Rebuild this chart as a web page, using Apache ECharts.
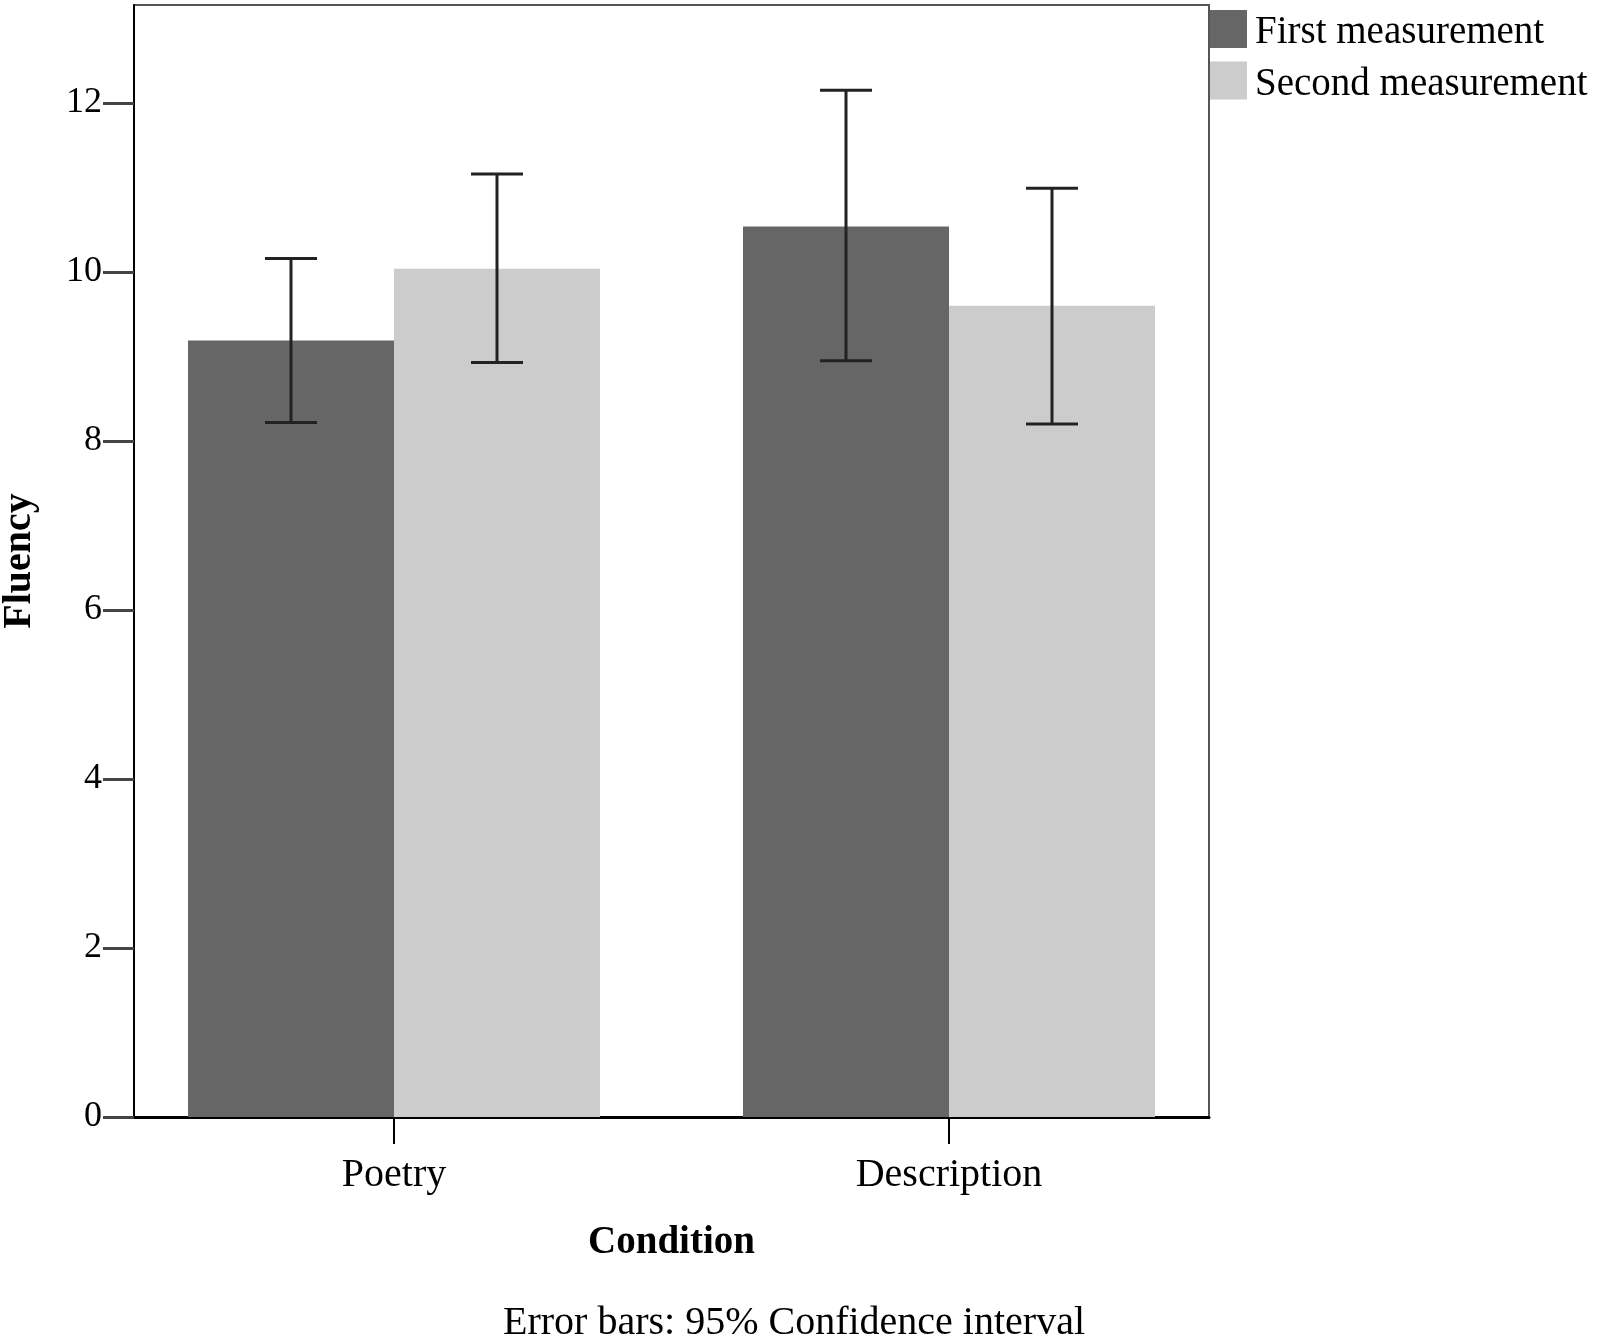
<!DOCTYPE html>
<html>
<head>
<meta charset="utf-8">
<script src="https://cdn.jsdelivr.net/npm/echarts@6/dist/echarts.min.js"></script>
<style>html,body{margin:0;padding:0;background:#fff;}#c{width:1602px;height:1336px;}</style>
</head>
<body>
<div id="c"></div>
<script>
const categories = ['Poetry', 'Description'];
const seriesNames = ['First measurement', 'Second measurement'];
const firstMean = [9.19, 10.54];
const secondMean = [10.04, 9.60];
const firstLow = [8.22, 8.95];
const firstHigh = [10.16, 12.15];
const secondLow = [8.93, 8.20];
const secondHigh = [11.16, 10.99];
const yTicks = [0, 2, 4, 6, 8, 10, 12];
const yMax = 13.16;

const FONT = '"Liberation Serif", "Times New Roman", serif';
const BAR_W = 206;

function errData(lo, hi) {
  return categories.map((c, i) => [i, lo[i], hi[i]]);
}
function errRender(sign) {
  return function (params, api) {
    const lo = api.coord([api.value(0), api.value(1)]);
    const hi = api.coord([api.value(0), api.value(2)]);
    const x = lo[0] + sign * BAR_W / 2;
    const cap = 26;
    const st = { stroke: '#222', lineWidth: 3 };
    return {
      type: 'group',
      children: [
        { type: 'line', shape: { x1: x, y1: lo[1], x2: x, y2: hi[1] }, style: st },
        { type: 'line', shape: { x1: x - cap, y1: lo[1], x2: x + cap, y2: lo[1] }, style: st },
        { type: 'line', shape: { x1: x - cap, y1: hi[1], x2: x + cap, y2: hi[1] }, style: st }
      ]
    };
  };
}

const chart = echarts.init(document.getElementById('c'), null, { renderer: 'canvas' });
chart.setOption({
  backgroundColor: '#ffffff',
  animation: false,
  textStyle: { fontFamily: FONT },
  legend: {
    orient: 'vertical',
    left: 1210, top: 10, padding: 0,
    itemWidth: 37, itemHeight: 38, itemGap: 9,
    icon: 'rect',
    data: seriesNames,
    formatter: function (name) { return '{a|' + name + '}'; },
    textStyle: {
      fontFamily: FONT, fontSize: 39, color: '#000',
      rich: { a: { fontFamily: FONT, fontSize: 39, color: '#000', padding: [8, 0, 0, 3] } }
    }
  },
  grid: [
    { left: 116.5, right: 1602 - 1226.5, top: 5, bottom: 1336 - 1117, outerBoundsMode: 'none', containLabel: false },
    { left: 134, right: 1602 - 1209, top: 5, bottom: 1336 - 1117, outerBoundsMode: 'none', containLabel: false,
      show: true, borderColor: '#555', borderWidth: 2, backgroundColor: 'transparent' }
  ],
  xAxis: [
    {
      type: 'category', data: categories, gridIndex: 0,
      axisLine: { show: false },
      axisTick: { show: true, alignWithLabel: true, length: 27, lineStyle: { color: '#000', width: 2 } },
      axisLabel: { fontFamily: FONT, fontSize: 40, color: '#000', margin: 38 },
      name: 'Condition', nameLocation: 'middle', nameGap: 106,
      nameTextStyle: { fontFamily: FONT, fontSize: 39, fontWeight: 'bold', color: '#000' }
    },
    {
      type: 'value', gridIndex: 1, min: 0, max: 1,
      axisLine: { show: true, onZero: false, lineStyle: { color: '#000', width: 3 } },
      axisTick: { show: false }, axisLabel: { show: false }, splitLine: { show: false }
    }
  ],
  yAxis: [
    {
      type: 'value', gridIndex: 0, min: 0, max: yMax, show: false
    },
    {
      type: 'value', gridIndex: 1, min: 0, max: yMax,
      axisLine: { show: true, lineStyle: { color: '#000', width: 2 } },
      axisTick: { show: true, length: 31, customValues: yTicks, lineStyle: { color: '#444', width: 3 } },
      axisLabel: { customValues: yTicks, fontFamily: FONT, fontSize: 36, color: '#000', margin: 32 },
      splitLine: { show: false },
      name: 'Fluency', nameLocation: 'middle', nameGap: 94, nameRotate: 90,
      nameTextStyle: { fontFamily: FONT, fontSize: 40, fontWeight: 'bold', color: '#000' }
    }
  ],
  graphic: [
    {
      type: 'text',
      x: 794, y: 1323,
      style: {
        text: 'Error bars: 95% Confidence interval',
        font: '40px ' + FONT, fill: '#000',
        textAlign: 'center', textVerticalAlign: 'middle'
      }
    }
  ],
  series: [
    {
      name: seriesNames[0], type: 'bar', xAxisIndex: 0, yAxisIndex: 0,
      data: firstMean, barWidth: BAR_W, barGap: '0%',
      itemStyle: { color: '#666666' }
    },
    {
      name: seriesNames[1], type: 'bar', xAxisIndex: 0, yAxisIndex: 0,
      data: secondMean, barWidth: BAR_W, barGap: '0%',
      itemStyle: { color: '#cccccc' }
    },
    {
      type: 'custom', xAxisIndex: 0, yAxisIndex: 0, z: 10,
      renderItem: errRender(-1), data: errData(firstLow, firstHigh),
      encode: { x: 0, y: [1, 2] }, silent: true
    },
    {
      type: 'custom', xAxisIndex: 0, yAxisIndex: 0, z: 10,
      renderItem: errRender(1), data: errData(secondLow, secondHigh),
      encode: { x: 0, y: [1, 2] }, silent: true
    }
  ]
});
</script>
</body>
</html>
